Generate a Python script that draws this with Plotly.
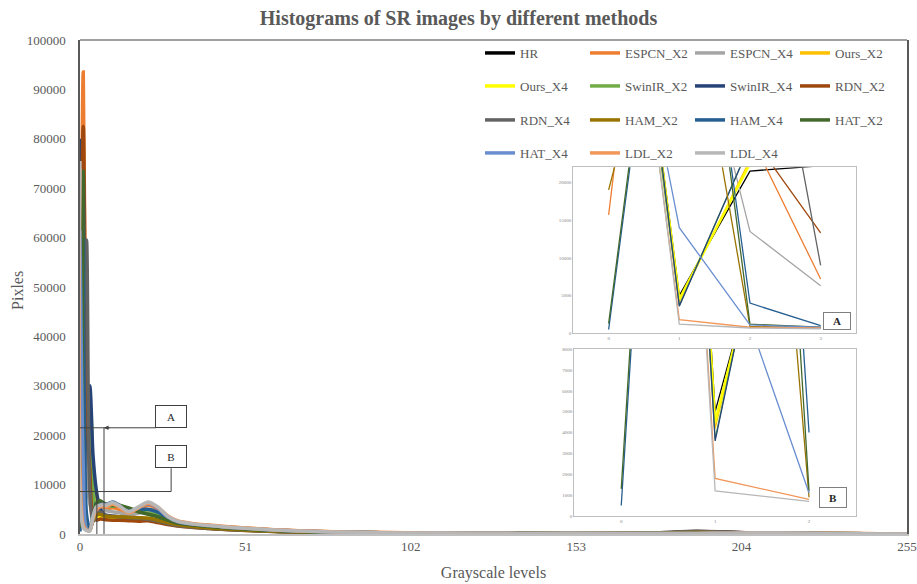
import plotly.graph_objects as go

# ---------------- data ----------------
LEVELS = [0, 1, 2, 3, 4, 5, 6, 7, 8, 10, 12, 15, 18, 21, 24, 27, 30, 35, 40, 45,
          51, 60, 70, 85, 100, 120, 150, 175, 190, 200, 215, 230, 255]

NAMES = ["HR", "ESPCN_X2", "ESPCN_X4", "Ours_X2", "Ours_X4", "SwinIR_X2", "SwinIR_X4",
         "RDN_X2", "RDN_X4", "HAM_X2", "HAM_X4", "HAT_X2", "HAT_X4", "LDL_X2", "LDL_X4"]

HR = [78000, 5000, 21500, 22200, 12000, 4500, 3700, 3500, 3400, 3300, 3200, 3000, 2900, 3100, 2800, 2300, 1900,
      1500, 1200, 1000, 800, 550, 380, 230, 170, 150, 70, 150, 500, 350, 120, 60, 0]
ESPCN_X2 = [15700, 93500, 26300, 7200, 3500, 4500, 5000, 5200, 5000, 5300, 5000, 4200, 4800, 5800, 5000, 3500, 2600,
            2000, 1700, 1450, 1200, 850, 600, 380, 250, 180, 100, 80, 120, 160, 220, 130, 0]
ESPCN_X4 = [67500, 51000, 13500, 6300, 4000, 4200, 4600, 4800, 4700, 4500, 4300, 3800, 4200, 4800, 4200, 3200, 2400,
            1900, 1600, 1350, 1100, 780, 540, 330, 220, 160, 90, 80, 110, 140, 190, 110, 0]
OURS_X2 = [77000, 4200, 23000, 24000, 10000, 4200, 3600, 3400, 3300, 3300, 3200, 3100, 3000, 3200, 2900, 2300, 1900,
           1500, 1200, 1000, 800, 550, 380, 230, 170, 150, 70, 140, 350, 250, 110, 60, 0]
OURS_X4 = [77500, 4500, 22500, 23500, 9500, 4000, 3500, 3300, 3200, 3200, 3100, 3000, 2900, 3100, 2800, 2200, 1800,
           1450, 1150, 950, 780, 540, 370, 220, 160, 140, 70, 140, 340, 250, 110, 60, 0]
SWINIR_X2 = [76000, 3700, 25000, 26000, 9000, 5000, 5800, 6000, 5800, 5600, 5800, 5200, 4600, 4200, 3800, 3000, 2300,
             1800, 1500, 1250, 1000, 700, 480, 300, 200, 150, 80, 80, 130, 150, 180, 100, 0]
SWINIR_X4 = [80000, 3600, 25000, 30000, 16000, 9000, 5500, 4200, 3800, 3600, 3500, 3200, 3100, 3000, 2700, 2200, 1800,
             1450, 1150, 950, 780, 540, 370, 220, 160, 140, 70, 150, 400, 300, 120, 60, 0]
RDN_X2 = [36000, 82500, 26400, 13300, 3500, 2800, 3000, 3000, 2900, 2800, 2800, 2700, 2600, 2700, 2300, 1900, 1600,
          1300, 1100, 900, 720, 500, 350, 210, 150, 130, 70, 130, 380, 280, 110, 60, 0]
RDN_X4 = [30000, 45000, 59500, 9000, 2500, 3800, 4500, 4200, 3700, 3600, 3500, 3300, 3200, 3000, 2600, 2100, 1700,
          1400, 1100, 900, 750, 520, 360, 220, 160, 140, 70, 160, 540, 360, 120, 60, 0]
HAM_X2 = [19000, 55000, 900, 700, 2800, 3800, 4000, 3800, 3600, 3500, 3500, 3400, 3300, 3200, 2800, 2300, 1900,
          1500, 1200, 1000, 800, 550, 380, 230, 170, 150, 70, 130, 330, 250, 110, 60, 0]
HAM_X4 = [500, 72000, 4000, 1000, 3000, 6200, 6600, 6300, 6000, 6500, 5900, 4800, 4900, 5000, 4400, 3300, 2400,
          1900, 1600, 1350, 1100, 780, 540, 330, 220, 160, 90, 80, 120, 150, 190, 110, 0]
HAT_X2 = [1300, 73500, 1200, 800, 3200, 6000, 6800, 6400, 6000, 5800, 5700, 5300, 4500, 4000, 3500, 2800, 2200,
          1800, 1500, 1250, 1000, 700, 480, 300, 200, 150, 80, 80, 130, 150, 180, 100, 0]
HAT_X4 = [61500, 14000, 1100, 800, 3500, 5200, 5800, 6000, 5900, 6200, 5600, 4600, 5300, 6100, 5200, 3500, 2500,
          2000, 1700, 1400, 1150, 800, 550, 330, 220, 160, 90, 80, 120, 150, 200, 120, 0]
LDL_X2 = [74000, 1800, 800, 700, 3000, 4800, 5400, 5600, 5500, 6000, 5500, 4300, 5300, 6300, 5400, 3700, 2700,
          2100, 1800, 1500, 1250, 850, 600, 360, 240, 170, 90, 80, 120, 160, 220, 130, 0]
LDL_X4 = [75500, 1200, 700, 600, 3500, 5500, 5800, 5900, 5800, 6400, 5800, 4500, 5500, 6500, 5500, 3600, 2600,
          2000, 1700, 1400, 1150, 800, 550, 330, 220, 160, 90, 80, 120, 150, 200, 120, 0]

VALUES = [HR, ESPCN_X2, ESPCN_X4, OURS_X2, OURS_X4, SWINIR_X2, SWINIR_X4,
          RDN_X2, RDN_X4, HAM_X2, HAM_X4, HAT_X2, HAT_X4, LDL_X2, LDL_X4]

COLORS = ["#000000", "#ED7D31", "#A5A5A5", "#FFC000", "#FFFF00", "#70AD47", "#264478",
          "#9E480E", "#636363", "#997300", "#255E91", "#43682B", "#698ED0", "#F1975A", "#B7B7B7"]

X_TICKS = [0, 51, 102, 153, 204, 255]
Y_TICKS = [0, 10000, 20000, 30000, 40000, 50000, 60000, 70000, 80000, 90000, 100000]
INSET_A_LEVELS = 4
INSET_A_X_TICKS = [0, 1, 2, 3]
INSET_A_Y_TICKS = [0, 5000, 10000, 15000, 20000]
INSET_B_LEVELS = 3
INSET_B_X_TICKS = [0, 1, 2]
INSET_B_Y_TICKS = [0, 1000, 2000, 3000, 4000, 5000, 6000, 7000, 8000]

for v in VALUES:
    assert len(v) == len(LEVELS)

SERIF = "Liberation Serif"
TXT = "#595959"
LEGENDS = ["legend", "legend2", "legend3", "legend4"]

fig = go.Figure()

for i, (name, vals, col) in enumerate(zip(NAMES, VALUES, COLORS)):
    fig.add_trace(go.Scatter(
        x=LEVELS, y=vals, mode="lines", name=name,
        line=dict(color=col, width=3.5, shape="spline", smoothing=0.8),
        legend=LEGENDS[i // 4], xaxis="x", yaxis="y", hoverinfo="x+y+name"))

for name, vals, col in zip(NAMES, VALUES, COLORS):
    fig.add_trace(go.Scatter(
        x=LEVELS[:INSET_A_LEVELS], y=vals[:INSET_A_LEVELS], mode="lines", name=name,
        line=dict(color=col, width=2.6 if name == "Ours_X4" else 1.3),
        showlegend=False, xaxis="x2", yaxis="y2"))

for name, vals, col in zip(NAMES, VALUES, COLORS):
    fig.add_trace(go.Scatter(
        x=LEVELS[:INSET_B_LEVELS], y=vals[:INSET_B_LEVELS], mode="lines", name=name,
        line=dict(color=col, width=2.6 if name == "Ours_X4" else 1.3),
        showlegend=False, xaxis="x3", yaxis="y3"))

inset_axis = dict(showline=True, mirror=True, linecolor="#BFBFBF", linewidth=1.2,
                  showgrid=False, zeroline=False, ticks="", tickformat="d",
                  tickfont=dict(family=SERIF, size=5, color="#7F7F7F"))

# plot area (in window pixels): x 80..907, y 40..534
legend_base = dict(orientation="h", xanchor="left", yanchor="middle", x=0.4837,
                   entrywidth=60, entrywidthmode="pixels", itemwidth=30,
                   bgcolor="rgba(0,0,0,0)", traceorder="normal",
                   font=dict(family=SERIF, size=13, color=TXT))
legend_rows = [0.9737, 0.9069, 0.8381, 0.7713]

layout = dict(
    width=917, height=584,
    margin=dict(l=80, r=10, t=40, b=50, autoexpand=False),
    paper_bgcolor="white", plot_bgcolor="white",
    font=dict(family=SERIF, color=TXT),
    title=dict(text="<b>Histograms of SR images by different methods</b>",
               x=0.5, xanchor="center", y=0.969, yanchor="middle",
               font=dict(family=SERIF, size=20, color=TXT)),
    xaxis=dict(domain=[0, 1], range=[0, 255], tickvals=X_TICKS, showline=True,
               linecolor="#BFBFBF", linewidth=1.5, showgrid=False, zeroline=False, ticks="",
               tickfont=dict(family=SERIF, size=13, color=TXT), automargin=False,
               ticklabeloverflow="allow",
               title=dict(text="Grayscale levels", font=dict(family=SERIF, size=16, color=TXT), standoff=13)),
    yaxis=dict(domain=[0, 1], range=[0, 100000], tickvals=Y_TICKS, tickformat="d", showline=True, mirror=True,
               linecolor="#595959", linewidth=1.5, showgrid=False, zeroline=False, ticks="",
               ticklabelstandoff=10, automargin=False,
               tickfont=dict(family=SERIF, size=13, color=TXT)),
    xaxis2=dict(domain=[0.5965, 0.9383], anchor="y2", range=[-0.5, 3.5], tickvals=INSET_A_X_TICKS, **inset_axis),
    yaxis2=dict(domain=[0.4063, 0.7423], anchor="x2", range=[0, 22000], tickvals=INSET_A_Y_TICKS, **inset_axis),
    xaxis3=dict(domain=[0.5977, 0.9383], anchor="y3", range=[-0.5, 2.5], tickvals=INSET_B_X_TICKS, **inset_axis),
    yaxis3=dict(domain=[0.0364, 0.3745], anchor="x3", range=[0, 8000], tickvals=INSET_B_Y_TICKS, **inset_axis),
    showlegend=True,
)
for lid, ly in zip(LEGENDS, legend_rows):
    d = dict(legend_base)
    d["y"] = ly
    layout[lid] = d

fig.update_layout(**layout)

# y-axis title
fig.add_annotation(text="Pixles", textangle=-90, xref="paper", yref="paper",
                   x=-0.075, y=0.494, xanchor="center", yanchor="middle", showarrow=False,
                   font=dict(family=SERIF, size=16, color=TXT))

# top frame line of the main plot
fig.add_shape(type="line", xref="paper", yref="paper", x0=0, x1=1, y0=1, y1=1,
              line=dict(color="#7F7F7F", width=1.5))

# callout lines for the zoomed regions
line_style = dict(color="#404040", width=1)
callouts = [
    (0, 21500, 23.4, 21500),
    (7.4, 0, 7.4, 21500),
    (28.1, 13300, 28.1, 8600),
    (28.1, 8600, 0, 8600),
    (5.2, 0, 5.2, 8600),
]
for x0, y0, x1, y1 in callouts:
    fig.add_shape(type="line", xref="x", yref="y", x0=x0, y0=y0, x1=x1, y1=y1, line=line_style)

fig.add_annotation(x=7.4, y=21500, ax=9.6, ay=21500, axref="x", ayref="y", xref="x", yref="y",
                   text="", showarrow=True, arrowhead=2, arrowsize=0.9, arrowwidth=1, arrowcolor="#404040")

box = dict(showarrow=False, bgcolor="white", bordercolor="#404040", borderwidth=1,
           font=dict(family=SERIF, size=11, color="#262626"))
fig.add_annotation(x=28.1, y=23800, xref="x", yref="y", text="A", width=28, height=19, **box)
fig.add_annotation(x=28.1, y=15700, xref="x", yref="y", text="B", width=28, height=19, **box)

box2 = dict(box)
box2["bordercolor"] = "#7F7F7F"
fig.add_annotation(x=3.23, y=1570, xref="x2", yref="y2", text="<b>A</b>", width=24, height=14, **box2)
fig.add_annotation(x=2.26, y=910, xref="x3", yref="y3", text="<b>B</b>", width=24, height=17, **box2)

# remove the default page margin so the 917x584 figure fills the window exactly
fig.write_html("out.html", config={"displayModeBar": False},
               post_script="document.body.style.margin='0px';document.body.style.overflow='hidden';")
